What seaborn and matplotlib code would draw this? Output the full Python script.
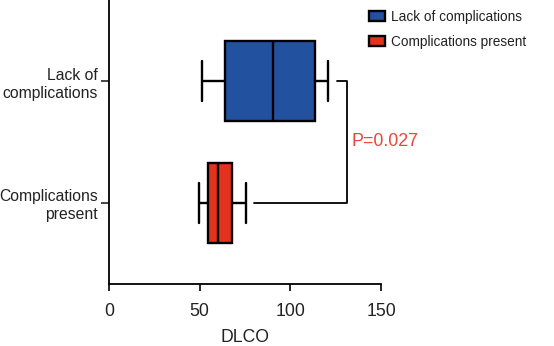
import pandas as pd
import matplotlib.pyplot as plt
import seaborn as sns

# Five-number summaries (min, q1, median, q3, max)
groups = ["Lack of complications", "Complications present"]
tick_labels = ["Lack of\ncomplications", "Complications\npresent"]
lack_values = [51.4, 64.0, 90.4, 113.6, 121.0]
present_values = [49.6, 54.6, 60.2, 67.8, 75.6]
colors = {"Lack of complications": "#22519f", "Complications present": "#e5321d"}

# significance bracket
bracket_x = [125.5, 131, 131, 80]
p_text = "P=0.027"

df = pd.DataFrame({
    "group": [groups[0]] * len(lack_values) + [groups[1]] * len(present_values),
    "DLCO": lack_values + present_values,
})

sns.set_style("ticks")
plt.rcParams["font.family"] = ["Liberation Sans", "DejaVu Sans"]
text_color = "#222222"

fig = plt.figure(figsize=(5.54, 3.46), dpi=100)
ax = fig.add_axes([109 / 554, 62 / 346, 272 / 554, 284 / 346])

sns.boxplot(data=df, x="DLCO", y="group", hue="group", order=groups,
            palette=colors, saturation=1, whis=(0, 100), width=0.656,
            linecolor="black", linewidth=1.7, dodge=False, legend=True, ax=ax)

ax.set_xlim(0, 150)
ax.set_ylim(1.664, -0.664)
ax.set_xticks([0, 50, 100, 150])
ax.set_yticks([0, 1])
ax.set_yticklabels(tick_labels, fontsize=11.3, color=text_color, linespacing=1.25)
ax.tick_params(axis="x", labelsize=12.7, colors="black", labelcolor=text_color,
               length=5, width=1.2, pad=9)
ax.tick_params(axis="y", length=6, width=1.2, pad=2)
ax.set_xlabel("DLCO", fontsize=12.7, color=text_color, labelpad=6)
ax.set_ylabel("")
sns.despine(ax=ax)
for side in ["left", "bottom"]:
    ax.spines[side].set_linewidth(1.3)
    ax.spines[side].set_color("black")

# bracket and p-value
ax.plot(bracket_x, [0, 0, 1, 1], color="black", linewidth=1.3, clip_on=False)
ax.text(133.5, 0.5, p_text, color="#e8473a", fontsize=12.9, va="center", ha="left")

sns.move_legend(ax, "upper left", bbox_to_anchor=(369 / 554, 1 - 10 / 346),
                bbox_transform=fig.transFigure, title=None, frameon=False,
                fontsize=9.8, handlelength=1.2, handleheight=0.75,
                handletextpad=0.4, labelspacing=0.8, borderaxespad=0, borderpad=0)
for t in ax.get_legend().get_texts():
    t.set_color(text_color)

fig.savefig("out.png", dpi=100)
